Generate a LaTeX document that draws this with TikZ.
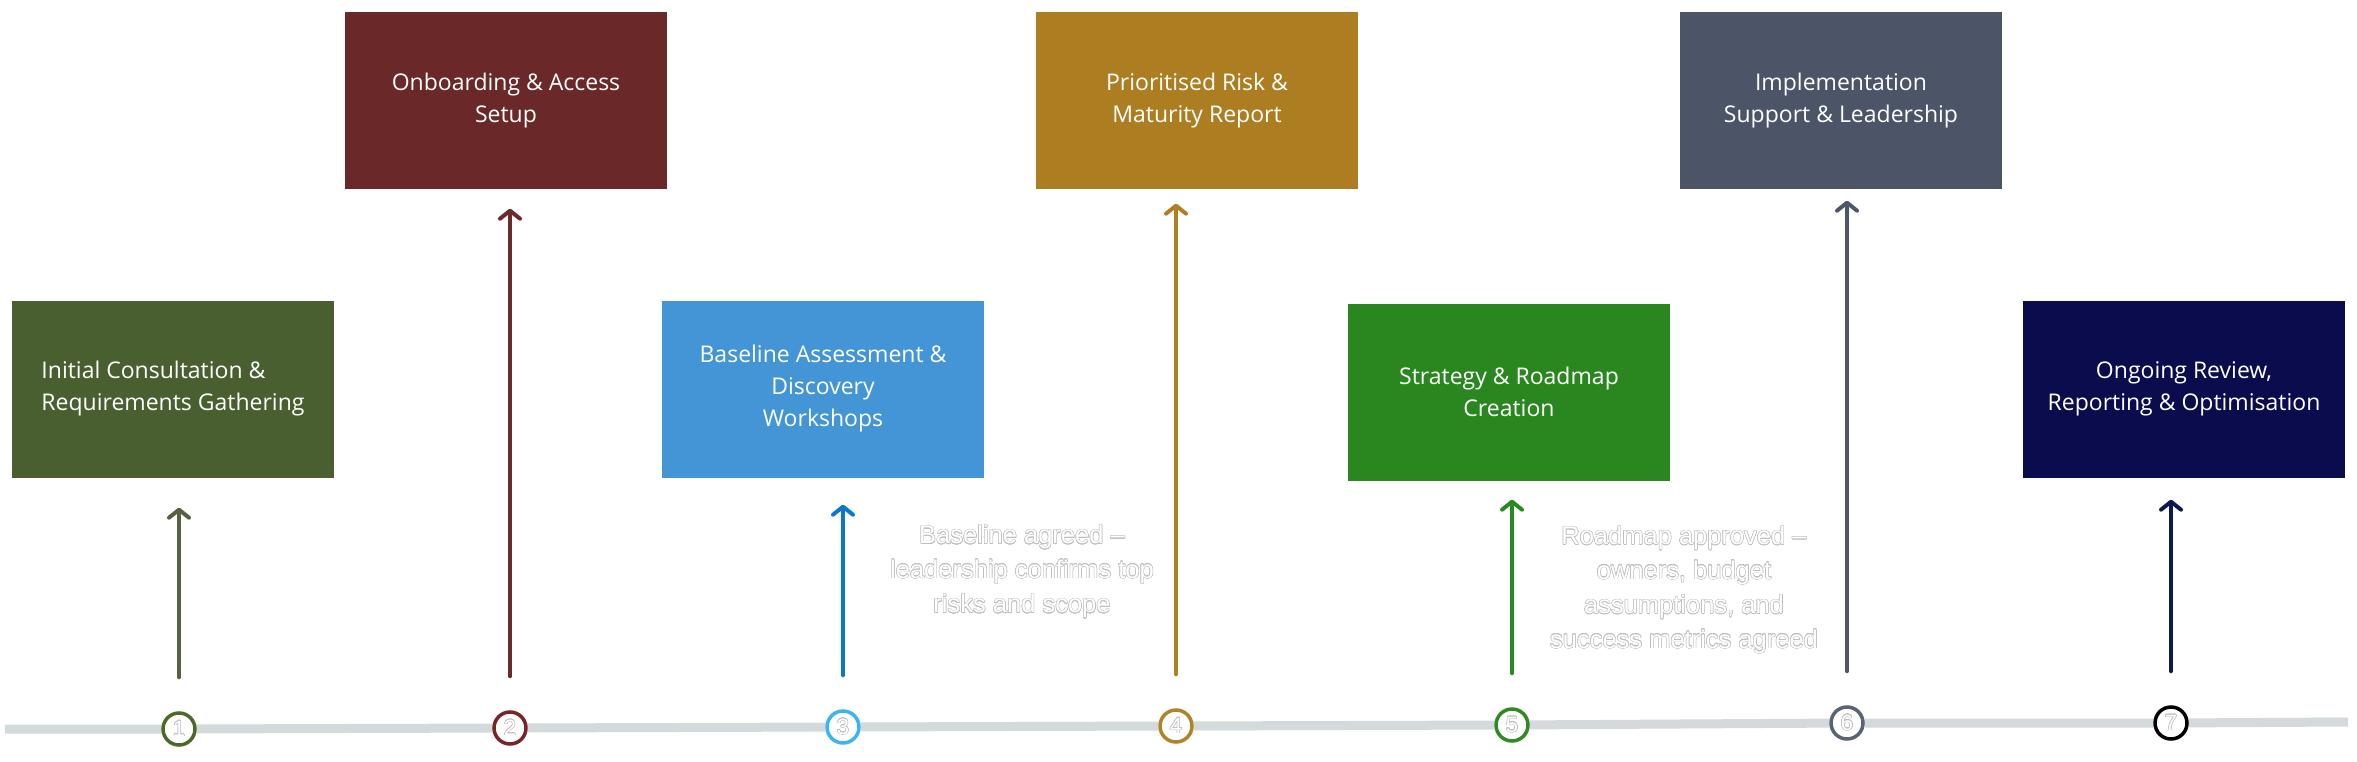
\documentclass[tikz,border=0pt]{standalone}
\usepackage{fontspec}
\setmainfont{Open Sans}
\newfontfamily\notefont{Liberation Sans}
\usepackage[copies]{contour}
\contourlength{0.5pt}
\usetikzlibrary{arrows.meta,calc,backgrounds}

\definecolor{boxA}{HTML}{4A5F2F}
\definecolor{boxB}{HTML}{6A2828}
\definecolor{boxC}{HTML}{4495D6}
\definecolor{boxD}{HTML}{AD7D22}
\definecolor{boxE}{HTML}{2A8720}
\definecolor{boxF}{HTML}{4C5468}
\definecolor{boxG}{HTML}{0B0C4E}
\definecolor{arrA}{HTML}{56613F}
\definecolor{arrB}{HTML}{6D2A2A}
\definecolor{arrC}{HTML}{0B78CC}
\definecolor{arrD}{HTML}{B07E25}
\definecolor{arrE}{HTML}{2A8A22}
\definecolor{arrF}{HTML}{4D566B}
\definecolor{arrG}{HTML}{0C1A50}
\definecolor{ringA}{HTML}{4B6A2A}
\definecolor{ringB}{HTML}{7A2525}
\definecolor{ringC}{HTML}{3DB4F2}
\definecolor{ringD}{HTML}{B08326}
\definecolor{ringE}{HTML}{2F8A24}
\definecolor{ringF}{HTML}{5A6278}
\definecolor{ringG}{HTML}{000000}
\definecolor{trackgray}{HTML}{D4D9DB}

\begin{document}
\begin{tikzpicture}[x=1pt,y=-1pt,
  phase/.style={rectangle, fill=#1, text=white, minimum width=322pt, minimum height=177pt,
    inner sep=0pt, align=center, font=\fontsize{23}{32}\selectfont},
  dot/.style={circle, draw=#1, line width=3.5pt, fill=white, text=white, minimum size=32pt,
    inner sep=0pt, font=\notefont\fontsize{22}{22}\selectfont},
  rise/.style={draw=#1, line width=4pt, line cap=round, -{Straight Barb[length=8pt,width=20pt,round]}},
  track/.style={draw=trackgray, line width=9pt},
  note/.style={align=center, text=white, font=\notefont\fontsize{25.5}{34.5}\selectfont}]
  \newcommand{\halo}[1]{\contour{black!25}{#1}}

  \useasboundingbox (0,0) rectangle (2357,762);

  \node[phase=boxA, align=left] (b1) at (173,389) {Initial Consultation \&\\Requirements Gathering};
  \node[phase=boxB] (b2) at (506,101) {Onboarding \& Access\\Setup};
  \node[phase=boxC] (b3) at (823,389) {Baseline Assessment \&\\Discovery\\Workshops};
  \node[phase=boxD] (b4) at (1197,101) {Prioritised Risk \&\\Maturity Report};
  \node[phase=boxE] (b5) at (1509,392) {Strategy \& Roadmap\\Creation};
  \node[phase=boxF] (b6) at (1841,101) {Implementation\\Support \& Leadership};
  \node[phase=boxG] (b7) at (2184,389) {Ongoing Review,\\Reporting \& Optimisation};

  \node[dot=ringA] (c1) at (179,729) {\halo{1}};
  \node[dot=ringB] (c2) at (510,728) {\halo{2}};
  \node[dot=ringC] (c3) at (843,727) {\halo{3}};
  \node[dot=ringD] (c4) at (1176,726) {\halo{4}};
  \node[dot=ringE] (c5) at (1512,725) {\halo{5}};
  \node[dot=ringF] (c6) at (1847,723) {\halo{6}};
  \node[dot=ringG] (c7) at (2171,723) {\halo{7}};

  \coordinate (s) at (5,729);
  \coordinate (e) at (2348,722);
  \begin{scope}[on background layer]
    \draw[track] (s) -- (c1) -- (c2) -- (c3) -- (c4) -- (c5) -- (c6) -- (c7) -- (e);
  \end{scope}

  \draw[rise=arrA] ($(c1.north)+(0,-34)$) -- ($(b1.south -| c1)+(0,30)$);
  \draw[rise=arrB] ($(c2.north)+(0,-34)$) -- ($(b2.south -| c2)+(0,19)$);
  \draw[rise=arrC] ($(c3.north)+(0,-34)$) -- ($(b3.south -| c3)+(0,27)$);
  \draw[rise=arrD] ($(c4.north)+(0,-34)$) -- ($(b4.south -| c4)+(0,14)$);
  \draw[rise=arrE] ($(c5.north)+(0,-34)$) -- ($(b5.south -| c5)+(0,19)$);
  \draw[rise=arrF] ($(c6.north)+(0,-34)$) -- ($(b6.south -| c6)+(0,11)$);
  \draw[rise=arrG] ($(c7.north)+(0,-34)$) -- ($(b7.south -| c7)+(0,22)$);

  \node[note] (n1) at (1022,572) {\halo{Baseline agreed –}\\\halo{leadership confirms top}\\\halo{risks and scope}};
  \node[note] (n2) at (1684,590) {\halo{Roadmap approved –}\\\halo{owners, budget}\\\halo{assumptions, and}\\\halo{success metrics agreed}};
\end{tikzpicture}
\end{document}
